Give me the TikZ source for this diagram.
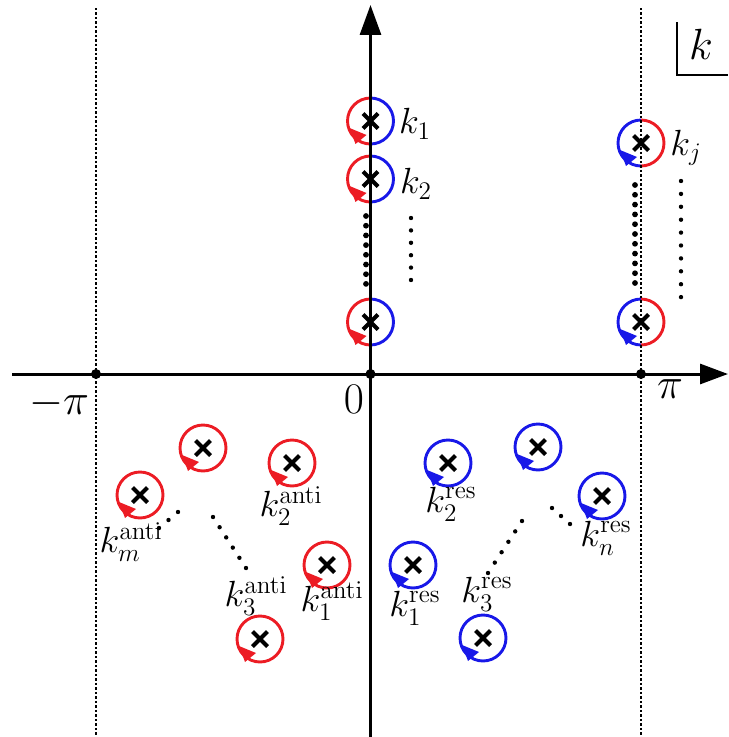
\documentclass[tikz,border=0pt]{standalone}
\usetikzlibrary{arrows.meta, shapes.misc}
\definecolor{polered}{RGB}{236,28,36}
\definecolor{poleblue}{RGB}{24,24,232}

\begin{document}
\begin{tikzpicture}[x=0.02cm, y=-0.02cm,
        axis/.style={line width=0.06cm},
        guide/.style={line width=0.05cm, dash pattern=on 0.05cm off 0.04cm},
        pole/.style={cross out, draw, line width=0.08cm, minimum size=0.22cm, inner sep=0pt},
        ring/.style={line width=0.058cm},
        axdot/.style={circle, fill, inner sep=0pt, minimum size=0.2cm},
        lbl/.style={font=\fontsize{20}{22}\selectfont, inner sep=0pt}
    ]
    \useasboundingbox (0,0) rectangle (728,737);
    % poles on the real axis and at pi
    \foreach \n/\x/\y/\lc/\rc in {k1/370.5/121/polered/poleblue, k2/370.5/179/polered/poleblue,
        kv/370.5/322/polered/poleblue, kj/641/143/poleblue/polered, kw/641/322/poleblue/polered}
    {
        \node[pole] (\n) at (\x,\y) {};
        \draw[ring, \lc] (\n.center) ++(90:0.46cm) arc[start angle=90, end angle=270, radius=0.46cm];
        \draw[ring, \rc] (\n.center) ++(-90:0.46cm) arc[start angle=-90, end angle=90, radius=0.46cm];
        \fill[\lc] (\n.center) ++(-0.30cm,-0.46cm) -- ++(-0.12cm,0.32cm) -- ++(0.34cm,-0.14cm) -- cycle;
    }
    % anti and res poles
    \foreach \n/\x/\y/\c in {am/140/495/polered, a0/203/448/polered, a2/292/463/polered,
        a1/327/565/polered, a3/260/639/polered, r1/413/565/poleblue, r2/448/463/poleblue,
        r0/538/447/poleblue, rn/602/496/poleblue, r3/483/638/poleblue}
    {
        \node[pole] (\n) at (\x,\y) {};
        \draw[ring, \c] (\n.center) circle[radius=0.46cm];
        \fill[\c] (\n.center) ++(-0.30cm,-0.46cm) -- ++(-0.12cm,0.32cm) -- ++(0.34cm,-0.14cm) -- cycle;
    }
    % axes
    \foreach \n/\x in {mpi/96, ppi/641}
    {
        \coordinate (\n top) at (\x,8);
        \coordinate (\n bot) at (\x,737);
        \draw[guide] (\n top) -- (\n bot);
    }
    \coordinate (xl) at (12,374);
    \coordinate (xr) at (728,374);
    \coordinate (yb) at (370.5,737);
    \coordinate (yt) at (370.5,5);
    \draw[axis, -{Triangle[length=0.56cm, width=0.4cm]}] (xl) -- (xr);
    \draw[axis, -{Triangle[length=0.6cm, width=0.42cm]}] (yb) -- (yt);
    \node[axdot] (mpi) at (96,374) {};
    \node[axdot] (org) at (370.5,374) {};
    \node[axdot] (ppi) at (641,374) {};
    \node[font=\fontsize{28}{30}\selectfont] (lmpi) at (59,404) {$-\pi$};
    \node[font=\fontsize{25}{27}\selectfont] (lorg) at (354,399) {$0$};
    \node[font=\fontsize{28}{30}\selectfont] (lppi) at (670,389) {$\pi$};
    % plane label
    \node[font=\fontsize{38}{40}\selectfont] (kplane) at (701,44) {$k$};
    \coordinate (kt) at (677,22);
    \coordinate (kc) at (677,75);
    \coordinate (kr) at (728,75);
    \draw[line width=0.03cm] (kt) -- (kc) -- (kr);
    % pole labels
    \node[lbl] (lk1) at (415,124) {$k_1$};
    \node[lbl] (lk2) at (416,184) {$k_2$};
    \node[lbl] (lkj) at (686,148) {$k_j$};
    \node[lbl] (lam) at (131,542) {$k_m^{\mathrm{anti}}$};
    \node[lbl] (la2) at (291,506) {$k_2^{\mathrm{anti}}$};
    \node[lbl] (la3) at (256,596) {$k_3^{\mathrm{anti}}$};
    \node[lbl] (la1) at (332,601) {$k_1^{\mathrm{anti}}$};
    \node[lbl] (lr2) at (451,504) {$k_2^{\mathrm{res}}$};
    \node[lbl] (lrn) at (606,538) {$k_n^{\mathrm{res}}$};
    \node[lbl] (lr1) at (415,608) {$k_1^{\mathrm{res}}$};
    \node[lbl] (lr3) at (487,594) {$k_3^{\mathrm{res}}$};
    % dots
    \foreach \x/\y/\n/\d/\s in {366/216/8/9.7/0.058, 411/218/6/12.4/0.044,
        635/185/11/9.8/0.058, 681/181/10/12.9/0.044}
    {
        \foreach \i in {1,...,\n}
            \fill (\x,{\y+(\i-1)*\d}) circle[radius=\s cm];
    }
    \foreach \xa/\ya/\xb/\yb/\n in {159/528/178/512/3, 213/517/246/568/6,
        570/524/552/508/3, 522/521/488/573/6}
    {
        \pgfmathtruncatemacro{\m}{\n-1}
        \foreach \i in {0,...,\m}
            \fill ({\xa+(\xb-\xa)*\i/\m},{\ya+(\yb-\ya)*\i/\m}) circle[radius=0.044cm];
    }
\end{tikzpicture}
\end{document}
